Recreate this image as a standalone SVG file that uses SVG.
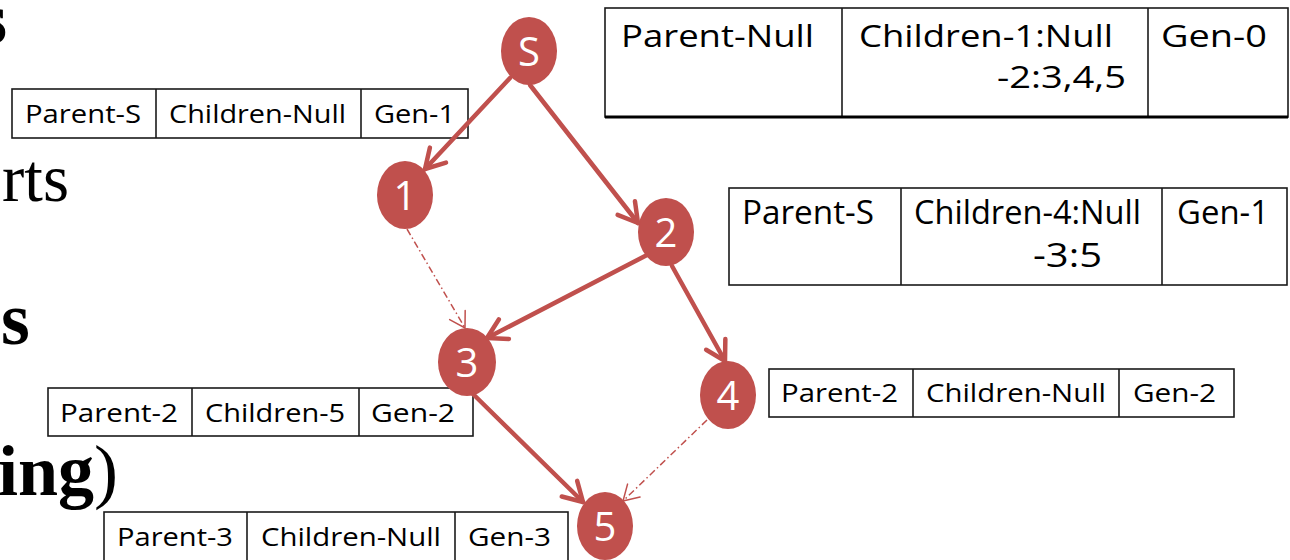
<svg xmlns="http://www.w3.org/2000/svg" width="1290" height="560" viewBox="0 0 1290 560">
  <style>
    .node ellipse { fill: #C0504D; }
    .node text { fill: #FFFFFF; font-family: "Open Sans", "Liberation Sans", sans-serif; font-size: 40px; text-anchor: middle; }
    .edge { fill: none; stroke: #C0504D; stroke-width: 4.5; stroke-linecap: round; }
    .dash { fill: none; stroke: #C0504D; stroke-width: 1.5; stroke-dasharray: 7 3 1.5 3; }
    .cell { fill: #FFFFFF; stroke: #1A1A1A; stroke-width: 1.6; }
    .div { stroke: #1A1A1A; stroke-width: 1.6; }
    .lbl { fill: #000000; font-family: "Open Sans", "Liberation Sans", sans-serif; }
    .s25 { font-size: 25px; }
    .s26 { font-size: 26px; }
    .s31 { font-size: 31px; }
    .s32 { font-size: 32px; }
    .serif { fill: #000000; font-family: "Liberation Serif", "Times New Roman", serif; }
  </style>
  <defs>
    <marker id="head" viewBox="-26 -16 32 32" refX="0" refY="0" markerWidth="32" markerHeight="32" markerUnits="userSpaceOnUse" orient="auto">
      <path d="M-19,-11 L0,0 L-19,11" fill="none" stroke="#C0504D" stroke-width="4.5" stroke-linecap="round" stroke-linejoin="round"/>
    </marker>
    <marker id="headThin" viewBox="-20 -12 24 24" refX="0" refY="0" markerWidth="24" markerHeight="24" markerUnits="userSpaceOnUse" orient="auto">
      <path d="M-15,-9 L0,0 L-15,9" fill="none" stroke="#C0504D" stroke-width="1.5" stroke-linecap="round"/>
    </marker>
  </defs>

  <rect width="1290" height="560" fill="#FFFFFF"/>

  <!-- slide text running in from the left edge -->
  <g id="side-text">
    <text class="serif" x="-21" y="43" font-size="72" font-weight="bold">s</text>
    <text class="serif" x="2" y="201" font-size="67">rts</text>
    <text class="serif" x="1" y="344" font-size="74" font-weight="bold">s</text>
    <text class="serif" x="-2" y="495" font-size="72" font-weight="bold">ing<tspan font-weight="normal">)</tspan></text>
  </g>

  <!-- record tables -->
  <g id="table-gen0">
    <rect class="cell" x="605" y="8" width="683" height="109"/>
    <line class="div" x1="842" y1="8" x2="842" y2="117"/>
    <line class="div" x1="1148" y1="8" x2="1148" y2="117"/>
    <line x1="605" y1="117" x2="1288" y2="117" stroke="#000" stroke-width="3"/>
    <text class="lbl s31" x="621" y="47" textLength="193" lengthAdjust="spacingAndGlyphs">Parent-Null</text>
    <text class="lbl s31" x="859" y="47" textLength="254" lengthAdjust="spacingAndGlyphs">Children-1:Null</text>
    <text class="lbl s31" x="997" y="88" textLength="129" lengthAdjust="spacingAndGlyphs">-2:3,4,5</text>
    <text class="lbl s31" x="1161" y="47" textLength="106" lengthAdjust="spacingAndGlyphs">Gen-0</text>
  </g>

  <g id="table-node1">
    <rect class="cell" x="12" y="89" width="456" height="49"/>
    <line class="div" x1="156" y1="89" x2="156" y2="138"/>
    <line class="div" x1="361" y1="89" x2="361" y2="138"/>
    <text class="lbl s25" x="25" y="123" textLength="116" lengthAdjust="spacingAndGlyphs">Parent-S</text>
    <text class="lbl s25" x="169" y="123" textLength="177" lengthAdjust="spacingAndGlyphs">Children-Null</text>
    <text class="lbl s25" x="374" y="123" textLength="81" lengthAdjust="spacingAndGlyphs">Gen-1</text>
  </g>

  <g id="table-node2">
    <rect class="cell" x="729" y="188" width="558" height="97"/>
    <line class="div" x1="901" y1="188" x2="901" y2="285"/>
    <line class="div" x1="1162" y1="188" x2="1162" y2="285"/>
    <text class="lbl s32" x="742" y="224" textLength="132" lengthAdjust="spacingAndGlyphs">Parent-S</text>
    <text class="lbl s32" x="914" y="224" textLength="227" lengthAdjust="spacingAndGlyphs">Children-4:Null</text>
    <text class="lbl s32" x="1033" y="267" textLength="69" lengthAdjust="spacingAndGlyphs">-3:5</text>
    <text class="lbl s32" x="1177" y="224" textLength="92" lengthAdjust="spacingAndGlyphs">Gen-1</text>
  </g>

  <g id="table-node4">
    <rect class="cell" x="769" y="369" width="465" height="48"/>
    <line class="div" x1="913" y1="369" x2="913" y2="417"/>
    <line class="div" x1="1119" y1="369" x2="1119" y2="417"/>
    <text class="lbl s25" x="781" y="402" textLength="117" lengthAdjust="spacingAndGlyphs">Parent-2</text>
    <text class="lbl s25" x="926" y="402" textLength="180" lengthAdjust="spacingAndGlyphs">Children-Null</text>
    <text class="lbl s25" x="1133" y="402" textLength="83" lengthAdjust="spacingAndGlyphs">Gen-2</text>
  </g>

  <g id="table-node3">
    <rect class="cell" x="48" y="388" width="425" height="48"/>
    <line class="div" x1="192" y1="388" x2="192" y2="436"/>
    <line class="div" x1="359" y1="388" x2="359" y2="436"/>
    <text class="lbl s26" x="60" y="422" textLength="118" lengthAdjust="spacingAndGlyphs">Parent-2</text>
    <text class="lbl s26" x="205" y="422" textLength="140" lengthAdjust="spacingAndGlyphs">Children-5</text>
    <text class="lbl s26" x="371" y="422" textLength="84" lengthAdjust="spacingAndGlyphs">Gen-2</text>
  </g>

  <g id="table-node5">
    <rect class="cell" x="104" y="512" width="464" height="52"/>
    <line class="div" x1="247" y1="512" x2="247" y2="564"/>
    <line class="div" x1="455" y1="512" x2="455" y2="564"/>
    <text class="lbl s25" x="117" y="546" textLength="116" lengthAdjust="spacingAndGlyphs">Parent-3</text>
    <text class="lbl s25" x="261" y="546" textLength="180" lengthAdjust="spacingAndGlyphs">Children-Null</text>
    <text class="lbl s25" x="468" y="546" textLength="83" lengthAdjust="spacingAndGlyphs">Gen-3</text>
  </g>

  <!-- nodes -->
  <g id="node-S" class="node">
    <ellipse cx="529" cy="51" rx="28" ry="34"/>
    <text x="529" y="66">S</text>
  </g>
  <g id="node-1" class="node">
    <ellipse cx="405" cy="195" rx="28" ry="34"/>
    <text x="405" y="210">1</text>
  </g>
  <g id="node-2" class="node">
    <ellipse cx="666" cy="232" rx="28" ry="34"/>
    <text x="666" y="247">2</text>
  </g>
  <g id="node-3" class="node">
    <ellipse cx="467" cy="362" rx="29" ry="34"/>
    <text x="467" y="377">3</text>
  </g>
  <g id="node-4" class="node">
    <ellipse cx="728" cy="395" rx="28" ry="34"/>
    <text x="728" y="410">4</text>
  </g>
  <g id="node-5" class="node">
    <ellipse cx="605" cy="526" rx="28" ry="34"/>
    <text x="605" y="541">5</text>
  </g>

  <!-- connectors -->
  <g id="connectors">
    <line class="edge" x1="510" y1="78" x2="425" y2="169" marker-end="url(#head)"/>
    <line class="edge" x1="530" y1="85" x2="638" y2="223" marker-end="url(#head)"/>
    <line class="edge" x1="647" y1="255" x2="487" y2="338" marker-end="url(#head)"/>
    <line class="edge" x1="672" y1="266" x2="725" y2="361" marker-end="url(#head)"/>
    <line class="edge" x1="472" y1="393" x2="583" y2="502" marker-end="url(#head)"/>
    <line class="dash" x1="407" y1="229" x2="465" y2="328" marker-end="url(#headThin)"/>
    <line class="dash" x1="707" y1="420" x2="623" y2="501" marker-end="url(#headThin)"/>
  </g>
</svg>
